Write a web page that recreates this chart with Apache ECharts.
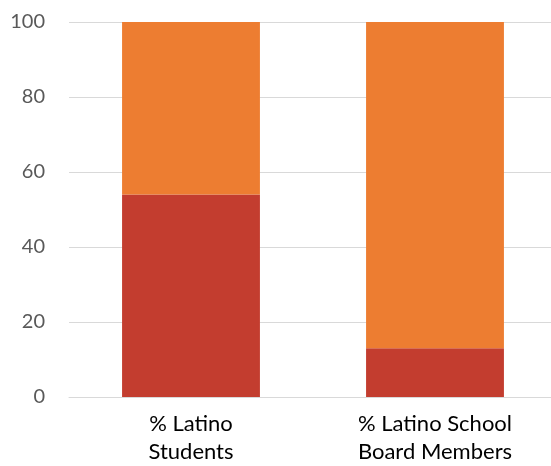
<!DOCTYPE html>
<html>
<head>
<meta charset="utf-8">
<script src="https://cdn.jsdelivr.net/npm/echarts@6/dist/echarts.min.js"></script>
<style>
  html, body { margin: 0; padding: 0; background: #fff; overflow: hidden; }
  #chart { width: 557px; height: 466px; }
</style>
</head>
<body>
<div id="chart"></div>
<script>
// Share of Latino students vs. Latino school board members (percent)
const categories = ['% Latino\nStudents', '% Latino School\nBoard Members'];
const latinoShare = [54, 13];
const remainderShare = [46, 87];
const yTicks = { min: 0, max: 100, interval: 20 };

const chart = echarts.init(document.getElementById('chart'), null, { renderer: 'canvas' });
chart.setOption({
  animation: false,
  grid: { left: 69, top: 22, width: 488, height: 375, containLabel: false },
  xAxis: {
    type: 'category',
    data: categories,
    axisLine: { show: true, lineStyle: { color: '#D9D9D9', width: 1 } },
    axisTick: { show: false },
    axisLabel: {
      color: '#000', fontFamily: 'Lato', fontSize: 22, lineHeight: 28, margin: 13
    }
  },
  yAxis: {
    type: 'value',
    min: yTicks.min, max: yTicks.max, interval: yTicks.interval,
    axisLine: { show: false },
    axisTick: { show: false },
    splitLine: { lineStyle: { color: '#D9D9D9', width: 1 } },
    axisLabel: { color: '#595959', fontFamily: 'Lato', fontSize: 20, margin: 24 }
  },
  series: [
    {
      name: 'Latino', type: 'bar', stack: 'total', data: latinoShare,
      barWidth: '56.5%',
      itemStyle: { color: '#C33D2F' }
    },
    {
      name: 'Other', type: 'bar', stack: 'total', data: remainderShare,
      barWidth: '56.5%',
      itemStyle: { color: '#ED7D31' }
    }
  ]
});
</script>
</body>
</html>
